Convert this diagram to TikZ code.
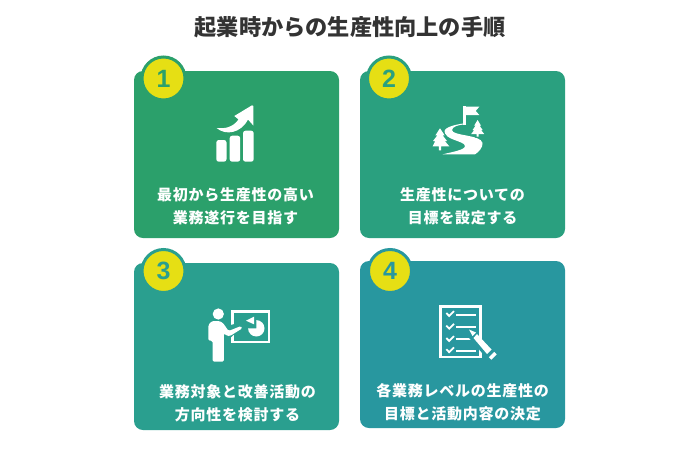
\documentclass[tikz,border=0pt]{standalone}
\usepackage{fontspec}
\usepackage{xcolor}
\setmainfont{Liberation Sans}
\newfontfamily\cjk[LetterSpace=5]{Noto Sans CJK JP}
\newfontfamily\cjktitle{Noto Sans CJK JP}
\usetikzlibrary{positioning}
\definecolor{cardA}{HTML}{2BA06B}
\definecolor{cardB}{HTML}{2AA07F}
\definecolor{cardC}{HTML}{2A9F8F}
\definecolor{cardD}{HTML}{28979F}
\definecolor{badgeYellow}{HTML}{E6DF14}
\definecolor{titleInk}{HTML}{333333}
\tikzset{
  card/.style={rounded corners=9pt, minimum width=205pt, minimum height=167pt, inner sep=0pt, outer sep=0pt},
  badge/.style={circle, fill=badgeYellow, line width=3pt, minimum size=43pt, inner sep=0pt,
    font=\fontsize{25}{25}\selectfont\bfseries},
  cardtext/.style={text=white, align=center, font=\fontsize{15}{23}\selectfont\cjk\bfseries, inner sep=0pt},
  icon/.style={fill=white, draw=none},
  iconline/.style={draw=white, line width=2.4pt},
  treeshape/.style={fill=white, preaction={draw=cardB, line width=2.4pt}},
}
\begin{document}
\begin{tikzpicture}[x=1pt,y=-1pt]
    \useasboundingbox (0,0) rectangle (700,450);

    % Title
    \node[text=titleInk, font=\fontsize{22.2}{26}\selectfont\cjktitle\bfseries] (title) at (350,27.5) {起業時からの生産性向上の手順};

    % Cards
    \node[card, fill=cardA] (card1) at (236.5,154.5) {};
    \node[card, fill=cardB] (card2) at (462.5,154.5) {};
    \node[card, fill=cardC] (card3) at (236.5,346.5) {};
    \node[card, fill=cardD] (card4) at (462.5,344.5) {};

    % Numbers
    \node[badge, draw=cardA, text=cardA] (num1) at (163.5,78.5) {1};
    \node[badge, draw=cardB, text=cardB] (num2) at (389,78.5) {2};
    \node[badge, draw=cardC, text=cardC] (num3) at (163.5,271) {3};
    \node[badge, draw=cardD, text=cardD] (num4) at (390,271) {4};

    % Labels
    \node[cardtext] (text1) at (235.5,206) {最初から生産性の高い\\業務遂行を目指す};
    \node[cardtext] (text2) at (462.5,206) {生産性についての\\目標を設定する};
    \node[cardtext] (text3) at (237.5,403) {業務対象と改善活動の\\方向性を検討する};
    \node[cardtext] (text4) at (462.5,402.5) {各業務レベルの生産性の\\目標と活動内容の決定};

    % Icon 1: bars and rising arrow
    \fill[icon, rounded corners=2.5pt] (216.3,140) rectangle (226.5,161.7);
    \fill[icon, rounded corners=2.5pt] (229.7,135.7) rectangle (240.2,161.7);
    \fill[icon, rounded corners=2.5pt] (243,130.7) rectangle (253.7,161.7);
    \fill[icon] (216.5,128) .. controls (224,129) and (233,127.5) .. (238.5,119.5)
        -- (234.3,116) -- (252,105.3) -- (253.3,106) -- (253.3,125.5) -- (248,119.5)
        .. controls (241,133) and (226,136) .. (216.5,128) -- cycle;

    % Icon 2: road, flag and trees
    \fill[icon] (463.3,106) rectangle (465.7,125);
    \fill[icon] (465.7,106.7) -- (479.3,106.7) -- (475.7,110.9) -- (479.3,115) -- (465.7,115) -- cycle;
    \fill[icon] (466,124.3) .. controls (458,124.8) and (452.5,126.5) .. (452,130)
        .. controls (452,136) and (481,134.5) .. (482.5,143)
        .. controls (483,147) and (479,152) .. (475,154.3)
        -- (442.7,154.3) .. controls (452,152) and (465,150) .. (465,146)
        .. controls (465,141) and (444.5,140) .. (444.5,131.5)
        .. controls (444.5,127) and (456,124.5) .. (463.3,123.5) -- cycle;
    \path[treeshape] (440,128.3) -- (444.6,135.3) -- (442.6,135.3) -- (447,141) -- (444.8,141) -- (449.3,146.3)
        -- (441.2,146.3) -- (441.2,150.3) -- (438.8,150.3) -- (438.8,146.3) -- (432.7,146.3)
        -- (435.2,141) -- (433,141) -- (437.4,135.3) -- (435.4,135.3) -- cycle;
    \path[treeshape] (477.6,120) -- (481,125.6) -- (479.6,125.6) -- (482.6,130) -- (481,130) -- (484.2,134)
        -- (478.6,134) -- (478.6,136.7) -- (476.6,136.7) -- (476.6,134) -- (471.2,134)
        -- (474.2,130) -- (472.6,130) -- (475.6,125.6) -- (474.2,125.6) -- cycle;

    % Icon 3: presenter and board
    \draw[iconline] (232.4,311.4) rectangle (268.8,341.8);
    \fill[cardC] (229,325.5) -- (238,323) -- (238,331) -- (229,339) -- cycle;
    \fill[icon] (218.3,314) circle (5.6);
    \fill[icon, rounded corners=1.5pt] (208.3,340.7) -- (208.3,325) -- (212,321) -- (219.5,321) -- (223,323)
        -- (228.6,331) -- (241,326) -- (242.5,328.2) -- (230,336) -- (227,336) -- (224,333)
        -- (223.8,361.7) -- (212.6,361.7) -- (212.6,340.7) -- cycle;
    \fill[icon] (256.3,328.3) -- (256.3,320.1) arc (-90:180:8.2) -- cycle;
    \fill[icon] (246,320.7) -- (254,316.7) -- (254,324.3) -- cycle;

    % Icon 4: checklist and pencil
    \draw[iconline] (440.5,306.5) rectangle (480.5,356.8);
    \foreach \yy in {313.6,326.2,338.6,349.8} {
        \draw[draw=white, line width=1.8pt] (446.3,\yy-0.6) -- (449.2,\yy+2.4) -- (454,\yy-2.4);
    }
    \foreach \yy in {315,327.3,339,350.7} {
        \draw[iconline, line width=1.9pt] (456,\yy) -- (476,\yy);
    }
    \fill[cardD] (470,328) -- (484,342) -- (496,354) -- (489,361) -- (463,331) -- cycle;
    \fill[icon] (469,329.5) -- (476,332.5) -- (472.5,336) -- cycle;
    \fill[icon] (477,334) -- (491.5,349.5) -- (487,354) -- (473.5,338) -- cycle;
    \fill[icon] (494.3,351.8) -- (496.7,354.4) -- (491.3,359.7) -- (488.9,357.2) -- cycle;
\end{tikzpicture}
\end{document}
